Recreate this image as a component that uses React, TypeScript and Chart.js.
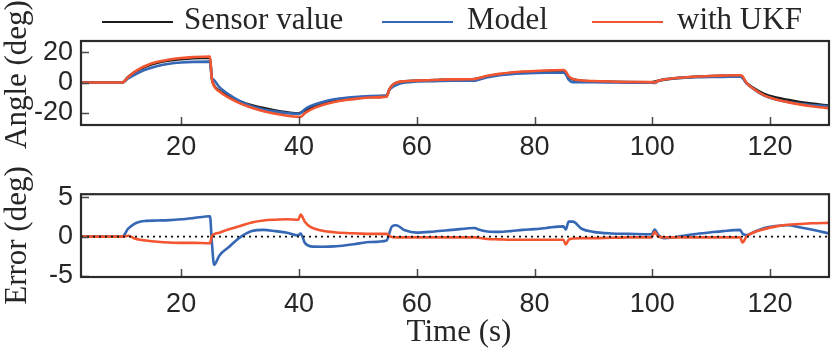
import React, { useEffect, useRef } from "react";
import { Chart, registerables } from "chart.js";
Chart.register(...registerables);

// ---------- data ----------
const times = [
  3, 10, 11, 12, 13, 14, 16, 18, 20, 22,
  24.9, 25.2, 25.6, 26.5, 28, 30, 32, 34, 36, 38,
  39.9, 40.3, 41, 42, 44, 46, 48, 50, 52, 54.9,
  55.3, 55.8, 56.5, 58, 60, 63, 66, 69.9, 70.5, 72,
  74, 76, 78, 80, 82, 84.9, 85.3, 85.8, 86.5, 88,
  90, 93, 96, 99.9, 100.4, 101, 102, 104, 107, 110,
  112, 114.9, 115.3, 116, 117, 119, 121, 123, 125, 127,
  130,
];

const sensorValue = [
  0, 0, 3.7, 6.6, 8.9, 10.7, 13.1, 14.6, 15.5, 16.1,
  16.5, 3, -2, -5.5, -9, -12.5, -15, -17, -18.6, -19.8,
  -20.6, -20, -18.5, -16.8, -14.2, -12.4, -11.2, -10.3, -9.6, -9.0,
  -5, -2, -0.2, 0.8, 1.2, 1.6, 2.0, 2.3, 2.8, 4.2,
  5.4, 6.3, 6.9, 7.3, 7.6, 7.9, 6.5, 3.8, 2.2, 1.2,
  0.8, 0.5, 0.3, 0.2, 0.6, 1.2, 1.9, 2.9, 3.8, 4.3,
  4.5, 4.7, 3.5, -0.3, -3.2, -7.6, -9.9, -11.5, -12.9, -14,
  -15.3,
];

const modelAngle = [
  0, 0, 2.7, 5.0, 7.0, 8.7, 11.05, 12.5, 13.3, 13.75,
  13.9, 3.5, 1.6, -3.1, -7.6, -12.4, -15.7, -17.85, -19.3, -20.3,
  -20.75, -20.4, -17.7, -15.55, -12.9, -11.15, -10.1, -9.4, -8.9, -8.5,
  -5.3, -3.3, -1.65, 0, 0.7, 0.95, 1.15, 1.2, 1.9, 3.55,
  4.8, 5.6, 6.05, 6.35, 6.5, 6.6, 5.6, 1.9, 0.3, 0.2,
  0.2, 0.1, -0.05, -0.1, -0.3, 1.0, 2.1, 2.95, 3.5, 3.75,
  3.8, 3.85, 3.1, -0.5, -3.7, -8.7, -11.25, -12.95, -14.1, -14.9,
  -15.7,
];

const ukfAngle = [
  0, 0, 3.6, 6.8, 9.3, 11.2, 13.75, 15.35, 16.3, 16.9,
  17.35, 3.0, -2.3, -6.0, -9.9, -13.85, -16.8, -19.05, -20.75, -22.0,
  -22.75, -22.8, -20.4, -18.0, -14.95, -12.95, -11.65, -10.7, -9.95, -9.35,
  -5.1, -1.95, -0.1, 0.9, 1.3, 1.7, 2.1, 2.4, 2.95, 4.5,
  5.75, 6.7, 7.3, 7.7, 8.0, 8.3, 7.5, 4.2, 2.45, 1.4,
  1.0, 0.65, 0.4, 0.3, 0.0, 1.2, 2.0, 3.0, 3.9, 4.4,
  4.6, 4.8, 4.25, -0.3, -3.65, -8.55, -11.2, -13.0, -14.5, -15.7,
  -17.05,
];

const modelError = [
  0, 0, 1.0, 1.6, 1.9, 2.0, 2.05, 2.1, 2.2, 2.35,
  2.6, -0.5, -3.6, -2.4, -1.4, -0.1, 0.7, 0.85, 0.7, 0.5,
  0.15, 0.4, -0.8, -1.25, -1.3, -1.25, -1.1, -0.9, -0.7, -0.5,
  0.3, 1.3, 1.45, 0.8, 0.5, 0.65, 0.85, 1.1, 0.9, 0.65,
  0.6, 0.7, 0.85, 0.95, 1.1, 1.3, 0.9, 1.9, 1.9, 1.0,
  0.6, 0.4, 0.35, 0.3, 0.9, 0.2, -0.2, -0.05, 0.3, 0.55,
  0.7, 0.85, 0.4, 0.2, 0.5, 1.1, 1.35, 1.45, 1.2, 0.9,
  0.4,
];

const ukfError = [
  0, 0, 0.1, -0.2, -0.4, -0.5, -0.65, -0.75, -0.8, -0.8,
  -0.85, 0.0, 0.3, 0.5, 0.9, 1.35, 1.8, 2.05, 2.15, 2.2,
  2.15, 2.8, 1.9, 1.2, 0.75, 0.55, 0.45, 0.4, 0.35, 0.35,
  0.1, -0.05, -0.1, -0.1, -0.1, -0.1, -0.1, -0.1, -0.15, -0.3,
  -0.35, -0.4, -0.4, -0.4, -0.4, -0.4, -1.0, -0.4, -0.25, -0.2,
  -0.2, -0.15, -0.1, -0.1, 0.6, 0.0, -0.1, -0.1, -0.1, -0.1,
  -0.1, -0.1, -0.75, 0.0, 0.45, 0.95, 1.3, 1.5, 1.6, 1.7,
  1.75,
];

const zeroLineX = [3, 130];
const zeroLineY = [0, 0];
const xTicks = [20, 40, 60, 80, 100, 120];
const angleTicks = [-20, 0, 20];
const errorTicks = [-5, 0, 5];
const legendLabels = ["Sensor value", "Model", "with UKF"];

// ---------- styles ----------
const BLACK = "#1c1c1c";
const BLUE = "#3567b5";
const RED = "#f2552f";
const TEXT = "#262626";
const SERIF = "'Liberation Serif', 'DejaVu Serif', serif";
const SANS = "'Liberation Sans', 'DejaVu Sans', sans-serif";
const X_MIN = 3;
const X_MAX = 130;

const pts = (xs: number[], ys: number[]) => xs.map((x, i) => ({ x, y: ys[i] }));

const framePlugin = {
  id: "frameTicks",
  afterDatasetsDraw(chart: any) {
    const { ctx, chartArea: a, scales } = chart;
    ctx.save();
    ctx.strokeStyle = "#4a4a4a";
    ctx.lineWidth = 1.5;
    ctx.beginPath();
    scales.x.ticks.forEach((t: any) => {
      const px = Math.round(scales.x.getPixelForValue(t.value)) + 0.5;
      ctx.moveTo(px, a.bottom);
      ctx.lineTo(px, a.bottom - 8);
    });
    scales.y.ticks.forEach((t: any) => {
      const py = Math.round(scales.y.getPixelForValue(t.value)) + 0.5;
      ctx.moveTo(a.left, py);
      ctx.lineTo(a.left + 8, py);
    });
    ctx.stroke();
    ctx.strokeStyle = "#2b2b2b";
    ctx.lineWidth = 2.2;
    ctx.strokeRect(a.left, a.top, a.right - a.left, a.bottom - a.top);
    ctx.restore();
  },
};

function makeOptions(
  yMin: number,
  yMax: number,
  yTicks: number[],
  padTop: number,
  xHeight: number,
  xPad: number
): any {
  return {
    responsive: false,
    animation: false,
    devicePixelRatio: 1,
    layout: { padding: { top: padTop, right: 2, left: 0, bottom: 0 } },
    plugins: { legend: { display: false }, tooltip: { enabled: false } },
    elements: { point: { radius: 0 } },
    scales: {
      x: {
        type: "linear",
        min: X_MIN,
        max: X_MAX,
        grid: { display: false, drawTicks: false },
        border: { display: false },
        afterBuildTicks: (s: any) => {
          s.ticks = xTicks.map((v) => ({ value: v }));
        },
        afterFit: (s: any) => {
          s.height = xHeight;
        },
        ticks: {
          padding: xPad,
          autoSkip: false,
          maxRotation: 0,
          color: TEXT,
          font: { family: SANS, size: 27 },
          callback: (v: any) => String(v),
        },
      },
      y: {
        type: "linear",
        min: yMin,
        max: yMax,
        grid: { display: false, drawTicks: false },
        border: { display: false },
        afterBuildTicks: (s: any) => {
          s.ticks = yTicks.map((v) => ({ value: v }));
        },
        afterFit: (s: any) => {
          s.width = 81;
        },
        ticks: {
          padding: 8,
          color: TEXT,
          font: { family: SANS, size: 27 },
          callback: (v: any) => String(v),
        },
      },
    },
  };
}

const lineDs = (label: string, data: any[], color: string, order: number) => ({
  label,
  data,
  borderColor: color,
  backgroundColor: color,
  borderWidth: 2.6,
  pointRadius: 0,
  fill: false,
  cubicInterpolationMode: "monotone",
  order,
});

export default function App() {
  const topRef = useRef<HTMLCanvasElement>(null);
  const botRef = useRef<HTMLCanvasElement>(null);

  useEffect(() => {
    const top = new Chart(topRef.current!, {
      type: "line",
      data: {
        datasets: [
          lineDs(legendLabels[0], pts(times, sensorValue), BLACK, 3),
          lineDs(legendLabels[1], pts(times, modelAngle), BLUE, 2),
          lineDs(legendLabels[2], pts(times, ukfAngle), RED, 1),
        ] as any,
      },
      options: makeOptions(-28.2, 27.6, angleTicks, 41, 45, 6),
      plugins: [framePlugin],
    });
    const bot = new Chart(botRef.current!, {
      type: "line",
      data: {
        datasets: [
          lineDs(legendLabels[1], pts(times, modelError), BLUE, 2),
          lineDs(legendLabels[2], pts(times, ukfError), RED, 1),
          {
            label: "zero",
            data: pts(zeroLineX, zeroLineY),
            borderColor: "#111",
            borderWidth: 1.8,
            borderDash: [2, 4],
            pointRadius: 0,
            fill: false,
            order: 0,
          },
        ] as any,
      },
      options: makeOptions(-5.15, 5.4, errorTicks, 23, 73, 11),
      plugins: [framePlugin],
    });
    return () => {
      top.destroy();
      bot.destroy();
    };
  }, []);

  const serifText: React.CSSProperties = {
    position: "absolute",
    fontFamily: SERIF,
    fontSize: 31,
    lineHeight: "31px",
    color: TEXT,
    whiteSpace: "nowrap",
  };
  const legendLine = (left: number, color: string): React.CSSProperties => ({
    position: "absolute",
    left,
    top: 20.5,
    width: 71,
    height: 2.6,
    background: color,
  });
  const yTitle = (cy: number): React.CSSProperties => ({
    ...serifText,
    left: 14.5 - 100,
    top: cy - 15.5,
    width: 200,
    height: 31,
    textAlign: "center",
    transform: "rotate(-90deg)",
    transformOrigin: "50% 50%",
  });

  return (
    <div
      style={{
        position: "absolute",
        left: 0,
        top: 0,
        width: 831,
        height: 350,
        background: "#fff",
        overflow: "hidden",
      }}
    >
      <canvas
        ref={topRef}
        width={831}
        height={170}
        style={{ position: "absolute", left: 0, top: 0, display: "block" }}
      />
      <canvas
        ref={botRef}
        width={831}
        height={180}
        style={{ position: "absolute", left: 0, top: 170, display: "block" }}
      />
      <div style={legendLine(102, BLACK)} />
      <div style={{ ...serifText, left: 184, top: 3.3 }}>{legendLabels[0]}</div>
      <div style={legendLine(382, BLUE)} />
      <div style={{ ...serifText, left: 467, top: 3.3 }}>{legendLabels[1]}</div>
      <div style={legendLine(592, RED)} />
      <div style={{ ...serifText, left: 677, top: 3.3 }}>{legendLabels[2]}</div>
      <div style={yTitle(74)}>Angle (deg)</div>
      <div style={yTitle(235)}>Error (deg)</div>
      <div style={{ ...serifText, left: 459 - 100, width: 200, textAlign: "center", top: 315 }}>
        Time (s)
      </div>
    </div>
  );
}
